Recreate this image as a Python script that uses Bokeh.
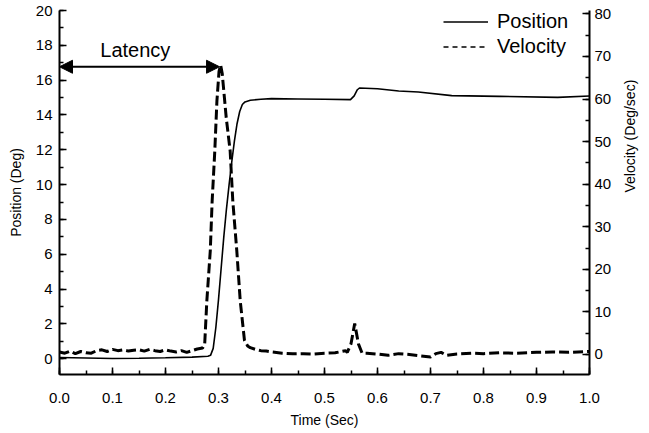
import math
from bokeh.plotting import figure
from bokeh.models import (Range1d, LinearAxis, Arrow, NormalHead, Label, Legend,
                          LegendItem, SingleIntervalTicker, NumeralTickFormatter)
from bokeh.embed import file_html
from bokeh.resources import INLINE

# ---------------- data ----------------
time_pos = [0.00, 0.05, 0.10, 0.15, 0.20, 0.25, 0.28, 0.285, 0.290, 0.295, 0.300,
            0.305, 0.310, 0.315, 0.320, 0.325, 0.330, 0.335, 0.340, 0.345, 0.350,
            0.360, 0.380, 0.400, 0.450, 0.500, 0.549, 0.556, 0.562, 0.566, 0.600,
            0.640, 0.677, 0.740, 0.830, 0.940, 1.000]
position = [0.08, 0.05, 0.02, 0.03, 0.06, 0.10, 0.15, 0.20, 0.60, 1.80, 3.40,
            5.20, 7.00, 8.60, 10.00, 11.30, 12.50, 13.50, 14.20, 14.60, 14.75,
            14.85, 14.90, 14.94, 14.92, 14.90, 14.88, 15.10, 15.45, 15.55, 15.51,
            15.38, 15.32, 15.11, 15.07, 15.01, 15.09]

time_vel = [0.000, 0.010, 0.020, 0.030, 0.040, 0.050, 0.060, 0.070, 0.080, 0.090,
            0.100, 0.110, 0.120, 0.130, 0.140, 0.150, 0.160, 0.170, 0.180, 0.190,
            0.200, 0.210, 0.220, 0.230, 0.240, 0.250, 0.260, 0.270, 0.274, 0.278,
            0.2845, 0.288, 0.293, 0.297, 0.301, 0.304, 0.307, 0.3146, 0.322, 0.327,
            0.3345, 0.341, 0.349, 0.355, 0.360, 0.370, 0.380, 0.390, 0.400, 0.420,
            0.440, 0.460, 0.480, 0.500, 0.520, 0.540, 0.543, 0.550, 0.557, 0.564,
            0.571, 0.580, 0.600, 0.620, 0.640, 0.660, 0.680, 0.700, 0.710, 0.720,
            0.730, 0.750, 0.780, 0.800, 0.830, 0.860, 0.900, 0.930, 0.960, 1.000]
velocity = [0.6, 0.3, 0.8, 0.2, 0.7, 0.4, 0.3, 0.9, 1.1, 0.7,
            1.2, 0.9, 1.1, 0.8, 1.0, 1.1, 0.8, 1.2, 0.9, 0.7,
            1.1, 0.8, 0.6, 0.9, 0.5, 0.9, 1.3, 1.5, 2.6, 12.6,
            24.4, 36.0, 47.8, 59.5, 66.5, 68.0, 66.0, 55.6, 47.8, 36.0,
            24.4, 12.6, 3.3, 2.0, 1.6, 1.2, 0.9, 0.8, 0.6, 0.3,
            0.15, 0.2, 0.1, 0.3, 0.4, 0.9, 0.5, 2.5, 7.3, 2.5,
            0.3, 0.3, 0.1, -0.2, 0.2, 0.0, -0.3, -0.6, 0.2, 0.5,
            -0.2, 0.1, 0.3, 0.2, 0.4, 0.3, 0.5, 0.6, 0.5, 0.7]

latency_start = 0.0
latency_end = 0.302
latency_level = 16.77
latency_text = "Latency"
latency_text_x = 0.143
latency_text_y = 17.75

FONT = "Liberation Sans"

# ---------------- figure ----------------
p = figure(width=649, height=433, x_range=Range1d(0, 1), y_range=Range1d(-0.9, 20),
           output_backend="svg", toolbar_location=None,
           min_border_left=59, min_border_right=57, min_border_top=10, min_border_bottom=59)
p.outline_line_color = None
p.grid.visible = False
p.background_fill_color = "white"
p.border_fill_color = "white"

p.extra_y_ranges = {"vel": Range1d(-4.7, 80.8)}

def style_axis(ax):
    ax.axis_line_width = 2
    ax.axis_line_color = "black"
    ax.major_tick_line_width = 1.5
    ax.minor_tick_line_width = 1.5
    ax.major_tick_in = 7
    ax.major_tick_out = 0
    ax.minor_tick_in = 4
    ax.minor_tick_out = 0
    ax.major_label_text_font = FONT
    ax.major_label_text_font_size = "15px"
    ax.major_label_text_color = "black"
    ax.axis_label_text_font = FONT
    ax.axis_label_text_font_size = "14px"
    ax.axis_label_text_font_style = "normal"
    ax.axis_label_text_color = "black"

xa = p.xaxis[0]
xa.ticker = SingleIntervalTicker(interval=0.1, num_minor_ticks=2)
xa.formatter = NumeralTickFormatter(format="0.0")
xa.axis_label = "Time (Sec)"
style_axis(xa)
xa.major_label_standoff = 18
xa.axis_label_standoff = 6

ya = p.yaxis[0]
ya.ticker = SingleIntervalTicker(interval=2, num_minor_ticks=2)
ya.axis_label = "Position (Deg)"
style_axis(ya)
ya.major_label_standoff = 7
ya.axis_label_standoff = 9

ra = LinearAxis(y_range_name="vel", axis_label="Velocity (Deg/sec)",
                ticker=SingleIntervalTicker(interval=10, num_minor_ticks=2))
style_axis(ra)
ra.major_label_standoff = 5
ra.axis_label_standoff = 16
if "axis_label_orientation" in ra.properties():
    # read bottom-to-top like the reference
    ra.axis_label_orientation = math.pi / 2
p.add_layout(ra, "right")

# ---------------- data lines ----------------
r_pos = p.line(time_pos, position, line_color="black", line_width=1.6)
r_vel = p.line(time_vel, velocity, line_color="black", line_width=3,
               line_dash="10 4", y_range_name="vel")

# legend-only renderers (thin styles as shown in the legend), never drawn in the plot
nan = float("nan")
leg_pos = p.line([nan], [nan], line_color="black", line_width=1.3)
leg_vel = p.line([nan], [nan], line_color="black", line_width=1.3, line_dash="5 4")

legend = Legend(items=[LegendItem(label="Position", renderers=[leg_pos]),
                       LegendItem(label="Velocity", renderers=[leg_vel])],
                location=(384, 315), orientation="vertical")
legend.label_text_font = FONT
legend.label_text_font_size = "20px"
legend.label_text_color = "black"
legend.glyph_width = 45
legend.glyph_height = 25
legend.label_height = 25
legend.label_standoff = 9
legend.spacing = 0
legend.padding = 0
legend.margin = 0
legend.border_line_color = None
legend.background_fill_alpha = 0
p.add_layout(legend, "center")

# ---------------- latency annotation ----------------
arrow = Arrow(start=NormalHead(size=13, fill_color="black", line_color="black"),
              end=NormalHead(size=13, fill_color="black", line_color="black"),
              x_start=latency_start, y_start=latency_level,
              x_end=latency_end, y_end=latency_level,
              line_color="black", line_width=2)
p.add_layout(arrow)
p.add_layout(Label(x=latency_text_x, y=latency_text_y, text=latency_text,
                   text_align="center", text_baseline="middle",
                   text_font=FONT, text_font_size="20px", text_color="black"))

open("out.html", "w").write(file_html(p, INLINE))
